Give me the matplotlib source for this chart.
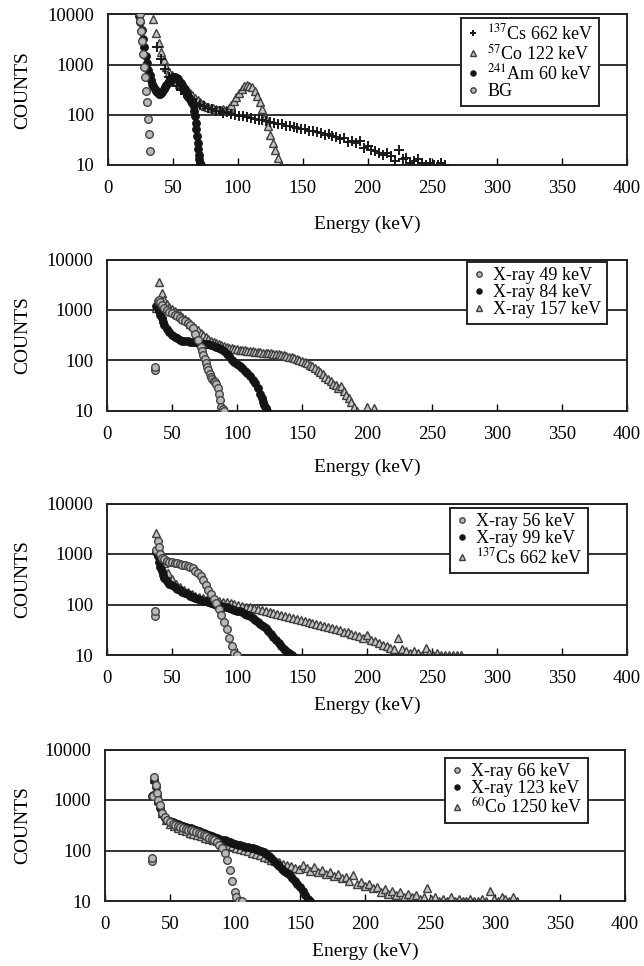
import numpy as np
import matplotlib
matplotlib.use("Agg")
import matplotlib.pyplot as plt

plt.rcParams['font.family'] = ['Liberation Serif', 'DejaVu Serif']
plt.rcParams['mathtext.fontset'] = 'stix'

# ---- data (energy in keV, counts) ----
# panel 1
cs1_start, cs1_step = 38, 3
cs1_c = [2200, 1300, 820, 560, 450, 370, 310, 260, 225, 195,
         172, 160, 148, 140, 132, 122, 118, 110, 112, 102,
         100, 96, 95, 90, 88, 84, 80, 79, 74, 72,
         70, 67, 66, 61, 60, 57, 55, 52, 52, 48,
         47, 45, 44, 40, 41, 37, 36, 33, 34, 29,
         30, 27, 30, 22, 24, 20, 19, 17, 16, 17,
         15, 12, 20, 13, 14, 11, 12, 13, 11, 10,
         11, 10, 10, 11, 10]
co1_start, co1_step = 35, 2
co1_c = [8000, 4200, 2700, 1800, 1250, 900, 720, 610, 530, 470,
         420, 380, 340, 305, 275, 245, 215, 195, 178, 162,
         152, 146, 140, 135, 130, 127, 124, 128, 126, 138,
         158, 188, 228, 278, 330, 368, 392, 382, 352, 300,
         240, 180, 130, 90, 60, 40, 28, 20, 14, 10]
am1_e = [24, 25, 26, 27, 28, 29, 30, 31, 32, 33, 34, 35, 36, 37, 38, 39, 40,
         41, 42, 43, 44, 45, 46, 47, 48, 49, 50, 51, 52, 53, 54, 55, 56, 57,
         58, 59, 60, 61, 62, 63, 64, 65, 66, 66.5, 67, 67.5, 68, 68.5, 69,
         69.5, 70, 70.5, 71, 72]
am1_c = [9500, 7000, 4800, 3200, 2200, 1500, 1100, 800, 620, 500, 420, 370,
         330, 300, 280, 265, 260, 270, 290, 320, 360, 400, 440, 480, 520, 550,
         570, 580, 570, 550, 520, 480, 440, 400, 360, 320, 290, 260, 230, 210,
         190, 170, 150, 120, 95, 70, 52, 38, 28, 21, 16, 13, 11, 10]
bg1_e = [24.4, 24.9, 25.6, 26.4, 26.8, 27.6, 28.6, 29.3, 29.9, 30.6, 31.4, 32.5]
bg1_c = [10000, 7500, 4600, 2900, 1600, 890, 560, 300, 180, 82, 41, 19]

# panel 2
x49_e = [37, 37.3, 39, 40, 41, 42, 44, 46, 48, 50, 52, 54, 56, 58, 60, 62,
         64, 66, 68, 70, 72, 73, 74, 75, 76, 77, 78, 79, 80, 81, 82, 83, 84,
         85, 86, 87, 88, 89, 90]
x49_c = [65, 72, 1500, 1600, 1400, 1250, 1100, 1000, 920, 850, 790, 740, 690,
         640, 590, 540, 490, 430, 330, 250, 180, 150, 125, 105, 88, 74, 63,
         54, 47, 42, 38, 36, 34, 28, 21, 16, 12, 10.5, 10]
x84_e = [38, 39, 40, 41, 42, 43, 44, 46, 48, 50, 52, 54, 56, 58, 60, 62, 64,
         66, 68, 70, 72, 74, 76, 78, 80, 82, 84, 86, 88, 90, 92, 94, 96, 98,
         100, 102, 104, 106, 108, 110, 112, 114, 116, 118, 119, 120, 121, 122,
         123]
x84_c = [1200, 1100, 950, 800, 680, 580, 500, 420, 360, 320, 290, 270, 255,
         245, 240, 235, 230, 228, 225, 222, 218, 214, 210, 205, 200, 195, 185,
         175, 165, 150, 135, 120, 100, 92, 85, 76, 69, 62, 55, 48, 41, 35, 28,
         21, 18, 15, 13, 11, 10]
x157_start, x157_step = 38, 2
x157_c = [1100, 3600, 2200, 1600, 1300, 1150, 1050, 960, 880, 800,
          720, 650, 590, 530, 480, 430, 390, 350, 320, 290,
          265, 245, 228, 215, 205, 196, 188, 182, 176, 172,
          168, 165, 162, 160, 157, 155, 152, 150, 148, 146,
          144, 142, 140, 138, 136, 134, 132, 130, 127, 124,
          121, 118, 114, 110, 106, 102, 97, 92, 87, 82,
          76, 70, 64, 58, 52, 47, 42, 38, 34, 32,
          28, 30, 24, 20, 18, 15, 12, 10]
x157_extra_e = [200, 205]
x157_extra_c = [12, 11]

# panel 3
x56_e = [37, 37.3, 38, 39, 40, 41, 42, 44, 46, 48, 50, 52, 54, 56, 58, 60,
         62, 64, 66, 68, 70, 72, 74, 76, 78, 80, 82, 84, 86, 88, 90, 92, 94,
         96, 98, 100]
x56_c = [60, 75, 1200, 1800, 1400, 1000, 850, 780, 740, 710, 690, 670, 650,
         630, 615, 600, 585, 560, 520, 470, 420, 360, 300, 240, 195, 160, 130,
         105, 82, 62, 45, 32, 22, 15, 11, 10]
x99_e = [38, 39, 40, 41, 42, 43, 44, 46, 48, 50, 52, 54, 56, 58, 60, 62, 64,
         66, 68, 70, 72, 74, 76, 78, 80, 82, 84, 86, 88, 90, 92, 94, 96, 98,
         100, 102, 104, 106, 108, 110, 112, 114, 116, 118, 120, 122, 124, 126,
         128, 130, 132, 134, 136, 138, 140, 142]
x99_c = [1100, 900, 700, 560, 460, 390, 340, 290, 260, 240, 220, 205, 190,
         178, 168, 158, 150, 143, 136, 130, 125, 120, 116, 112, 108, 104, 100,
         97, 94, 91, 88, 85, 82, 79, 76, 73, 70, 66, 62, 58, 54, 50, 46, 42,
         38, 34, 30, 26, 23, 20, 17, 15, 13, 12, 11, 10]
cs3_start, cs3_step = 38, 3
cs3_c = [2600, 1200, 650, 420, 320, 260, 220, 190, 175, 160,
         150, 142, 135, 130, 126, 122, 118, 114, 110, 106,
         102, 98, 95, 91, 88, 84, 80, 77, 73, 70,
         67, 64, 61, 58, 56, 53, 51, 49, 47, 45,
         43, 41, 39, 37, 36, 34, 32, 31, 29, 28,
         26, 25, 24, 22, 25, 20, 19, 17, 16, 15,
         14, 13, 22, 13, 12, 11, 12, 11, 10, 14,
         11, 10, 11, 10, 10, 10, 10, 10, 10]

# panel 4
x66_e = [36, 36.3, 37, 38, 39, 40, 41, 42, 44, 46, 48, 50, 52, 54, 56, 58,
         60, 62, 64, 66, 68, 70, 72, 74, 76, 78, 80, 82, 84, 86, 88, 90, 92,
         94, 96, 98, 100, 101, 103, 105]
x66_c = [62, 72, 1200, 2800, 2000, 1400, 1000, 780, 560, 460, 400, 360, 335,
         320, 305, 290, 280, 270, 260, 250, 240, 230, 220, 210, 200, 190, 180,
         170, 158, 145, 130, 112, 90, 65, 42, 25, 15, 12, 10, 10]
x123_e = [36, 37, 38, 39, 40, 41, 42, 44, 46, 48, 50, 52, 54, 56, 58, 60, 62,
          64, 66, 68, 70, 72, 74, 76, 78, 80, 82, 84, 86, 88, 90, 92, 94, 96,
          98, 100, 102, 104, 106, 108, 110, 112, 114, 116, 118, 120, 122, 124,
          126, 128, 130, 132, 134, 136, 138, 140, 142, 144, 146, 148, 150, 152,
          154, 156, 158]
x123_c = [1200, 1250, 2500, 1800, 1200, 900, 700, 520, 450, 410, 380, 360,
          345, 330, 318, 305, 295, 285, 275, 265, 255, 245, 235, 225, 215, 205,
          196, 188, 180, 172, 165, 158, 152, 146, 140, 135, 130, 126, 122, 120,
          118, 114, 110, 106, 102, 98, 94, 86, 78, 70, 62, 55, 49, 44, 40, 36,
          32, 28, 25, 22, 19, 16, 13, 11, 10]
co4_start, co4_step = 38, 3
co4_c = [2600, 1000, 550, 400, 340, 300, 275, 255, 240, 225,
         212, 200, 190, 180, 170, 160, 152, 144, 136, 128,
         121, 114, 108, 102, 96, 90, 85, 80, 75, 70,
         66, 62, 58, 55, 52, 49, 46, 43, 52, 45,
         40, 48, 38, 42, 35, 38, 31, 34, 28, 30,
         25, 32, 22, 24, 20, 22, 18, 19, 15, 17,
         14, 16, 13, 15, 12, 14, 12, 13, 11, 12,
         18, 11, 12, 10, 11, 10, 12, 10, 11, 10,
         10, 11, 10, 10, 11, 10, 16, 11, 10, 12,
         11, 10, 12, 10]

x_ticks = [0, 50, 100, 150, 200, 250, 300, 350, 400]
y_ticks = [10, 100, 1000, 10000]
y_tick_labels = ['10', '100', '1000', '10000']


def grid(start, step, counts):
    return start + step * np.arange(len(counts))


STYLES = {
    'plus': dict(marker='+', color='#1a1a1a', ms=7, mew=1.4),
    'tri': dict(marker='^', mfc='#c4c4c4', mec='#3e3e3e', ms=5.5, mew=1.0),
    'dot': dict(marker='o', color='#141414', ms=5.5, mew=0.8),
    'ring': dict(marker='o', mfc='#b8b8b8', mec='#434343', ms=5.5, mew=1.0),
}

W, H = 644, 966
fig = plt.figure(figsize=(W / 100, H / 100), dpi=100)

# (left, top, right, bottom) in pixels, legend anchor (x, y) in pixels, xlabel pad
boxes = [(108, 14.5, 627, 165, 461, 18, 13.5),
         (107, 259.5, 627, 410.5, 467, 262, 11.5),
         (107, 503.5, 627, 655, 450, 508, 6.5),
         (105, 749.5, 625, 901, 445, 758, 7)]

panels = [
    [('plus', grid(cs1_start, cs1_step, cs1_c), cs1_c, r'$^{137}$Cs 662 keV'),
     ('tri', grid(co1_start, co1_step, co1_c), co1_c, r'$^{57}$Co 122 keV'),
     ('dot', am1_e, am1_c, r'$^{241}$Am 60 keV'),
     ('ring', bg1_e, bg1_c, 'BG')],
    [('ring', x49_e, x49_c, 'X-ray 49 keV'),
     ('dot', x84_e, x84_c, 'X-ray 84 keV'),
     ('tri', np.concatenate([grid(x157_start, x157_step, x157_c), x157_extra_e]),
      x157_c + x157_extra_c, 'X-ray 157 keV')],
    [('ring', x56_e, x56_c, 'X-ray 56 keV'),
     ('dot', x99_e, x99_c, 'X-ray 99 keV'),
     ('tri', grid(cs3_start, cs3_step, cs3_c), cs3_c, r'$^{137}$Cs 662 keV')],
    [('ring', x66_e, x66_c, 'X-ray 66 keV'),
     ('dot', x123_e, x123_c, 'X-ray 123 keV'),
     ('tri', grid(co4_start, co4_step, co4_c), co4_c, r'$^{60}$Co 1250 keV')],
]

# draw order: triangles under the rest, as in the reference
z_order = {'tri': 2, 'plus': 3, 'dot': 4, 'ring': 5}

for (l, t, r, b, lx, ly, xpad), series in zip(boxes, panels):
    ax = fig.add_axes([l / W, 1 - b / H, (r - l) / W, (b - t) / H])
    handles = []
    for kind, e, c, label in series:
        h, = ax.plot(e, c, ls='none', zorder=z_order[kind], label=label,
                     **STYLES[kind])
        handles.append(h)
    ax.set_yscale('log')
    ax.set_xlim(0, 400)
    ax.set_ylim(10, 10000)
    ax.set_xticks(x_ticks)
    ax.set_yticks(y_ticks)
    ax.set_yticklabels(y_tick_labels)
    ax.minorticks_off()
    ax.tick_params(axis='x', direction='in', length=5, width=1, pad=11,
                   labelsize=13.5)
    ax.tick_params(axis='y', length=0, pad=10, labelsize=13.5)
    ax.grid(axis='y', color='#222222', lw=1.3)
    ax.set_axisbelow(True)
    for s in ax.spines.values():
        s.set_linewidth(1.4)
        s.set_color('#222222')
    ax.set_xlabel('Energy (keV)', fontsize=14, labelpad=xpad)
    ax.set_ylabel('COUNTS', fontsize=14)
    ax.yaxis.set_label_coords((31 - l) / (r - l), 0.5)
    leg = ax.legend(handles=handles, loc='upper left',
                    bbox_to_anchor=(lx / W, 1 - ly / H),
                    bbox_transform=fig.transFigure, fontsize=13,
                    frameon=True, fancybox=False, framealpha=1,
                    edgecolor='#222222', handlelength=0.7,
                    handletextpad=0.45, labelspacing=0.0, borderpad=0.3,
                    borderaxespad=0, markerscale=0.7)
    leg.get_frame().set_linewidth(1.4)
    leg.set_zorder(10)

fig.savefig('out.png', dpi=100)
